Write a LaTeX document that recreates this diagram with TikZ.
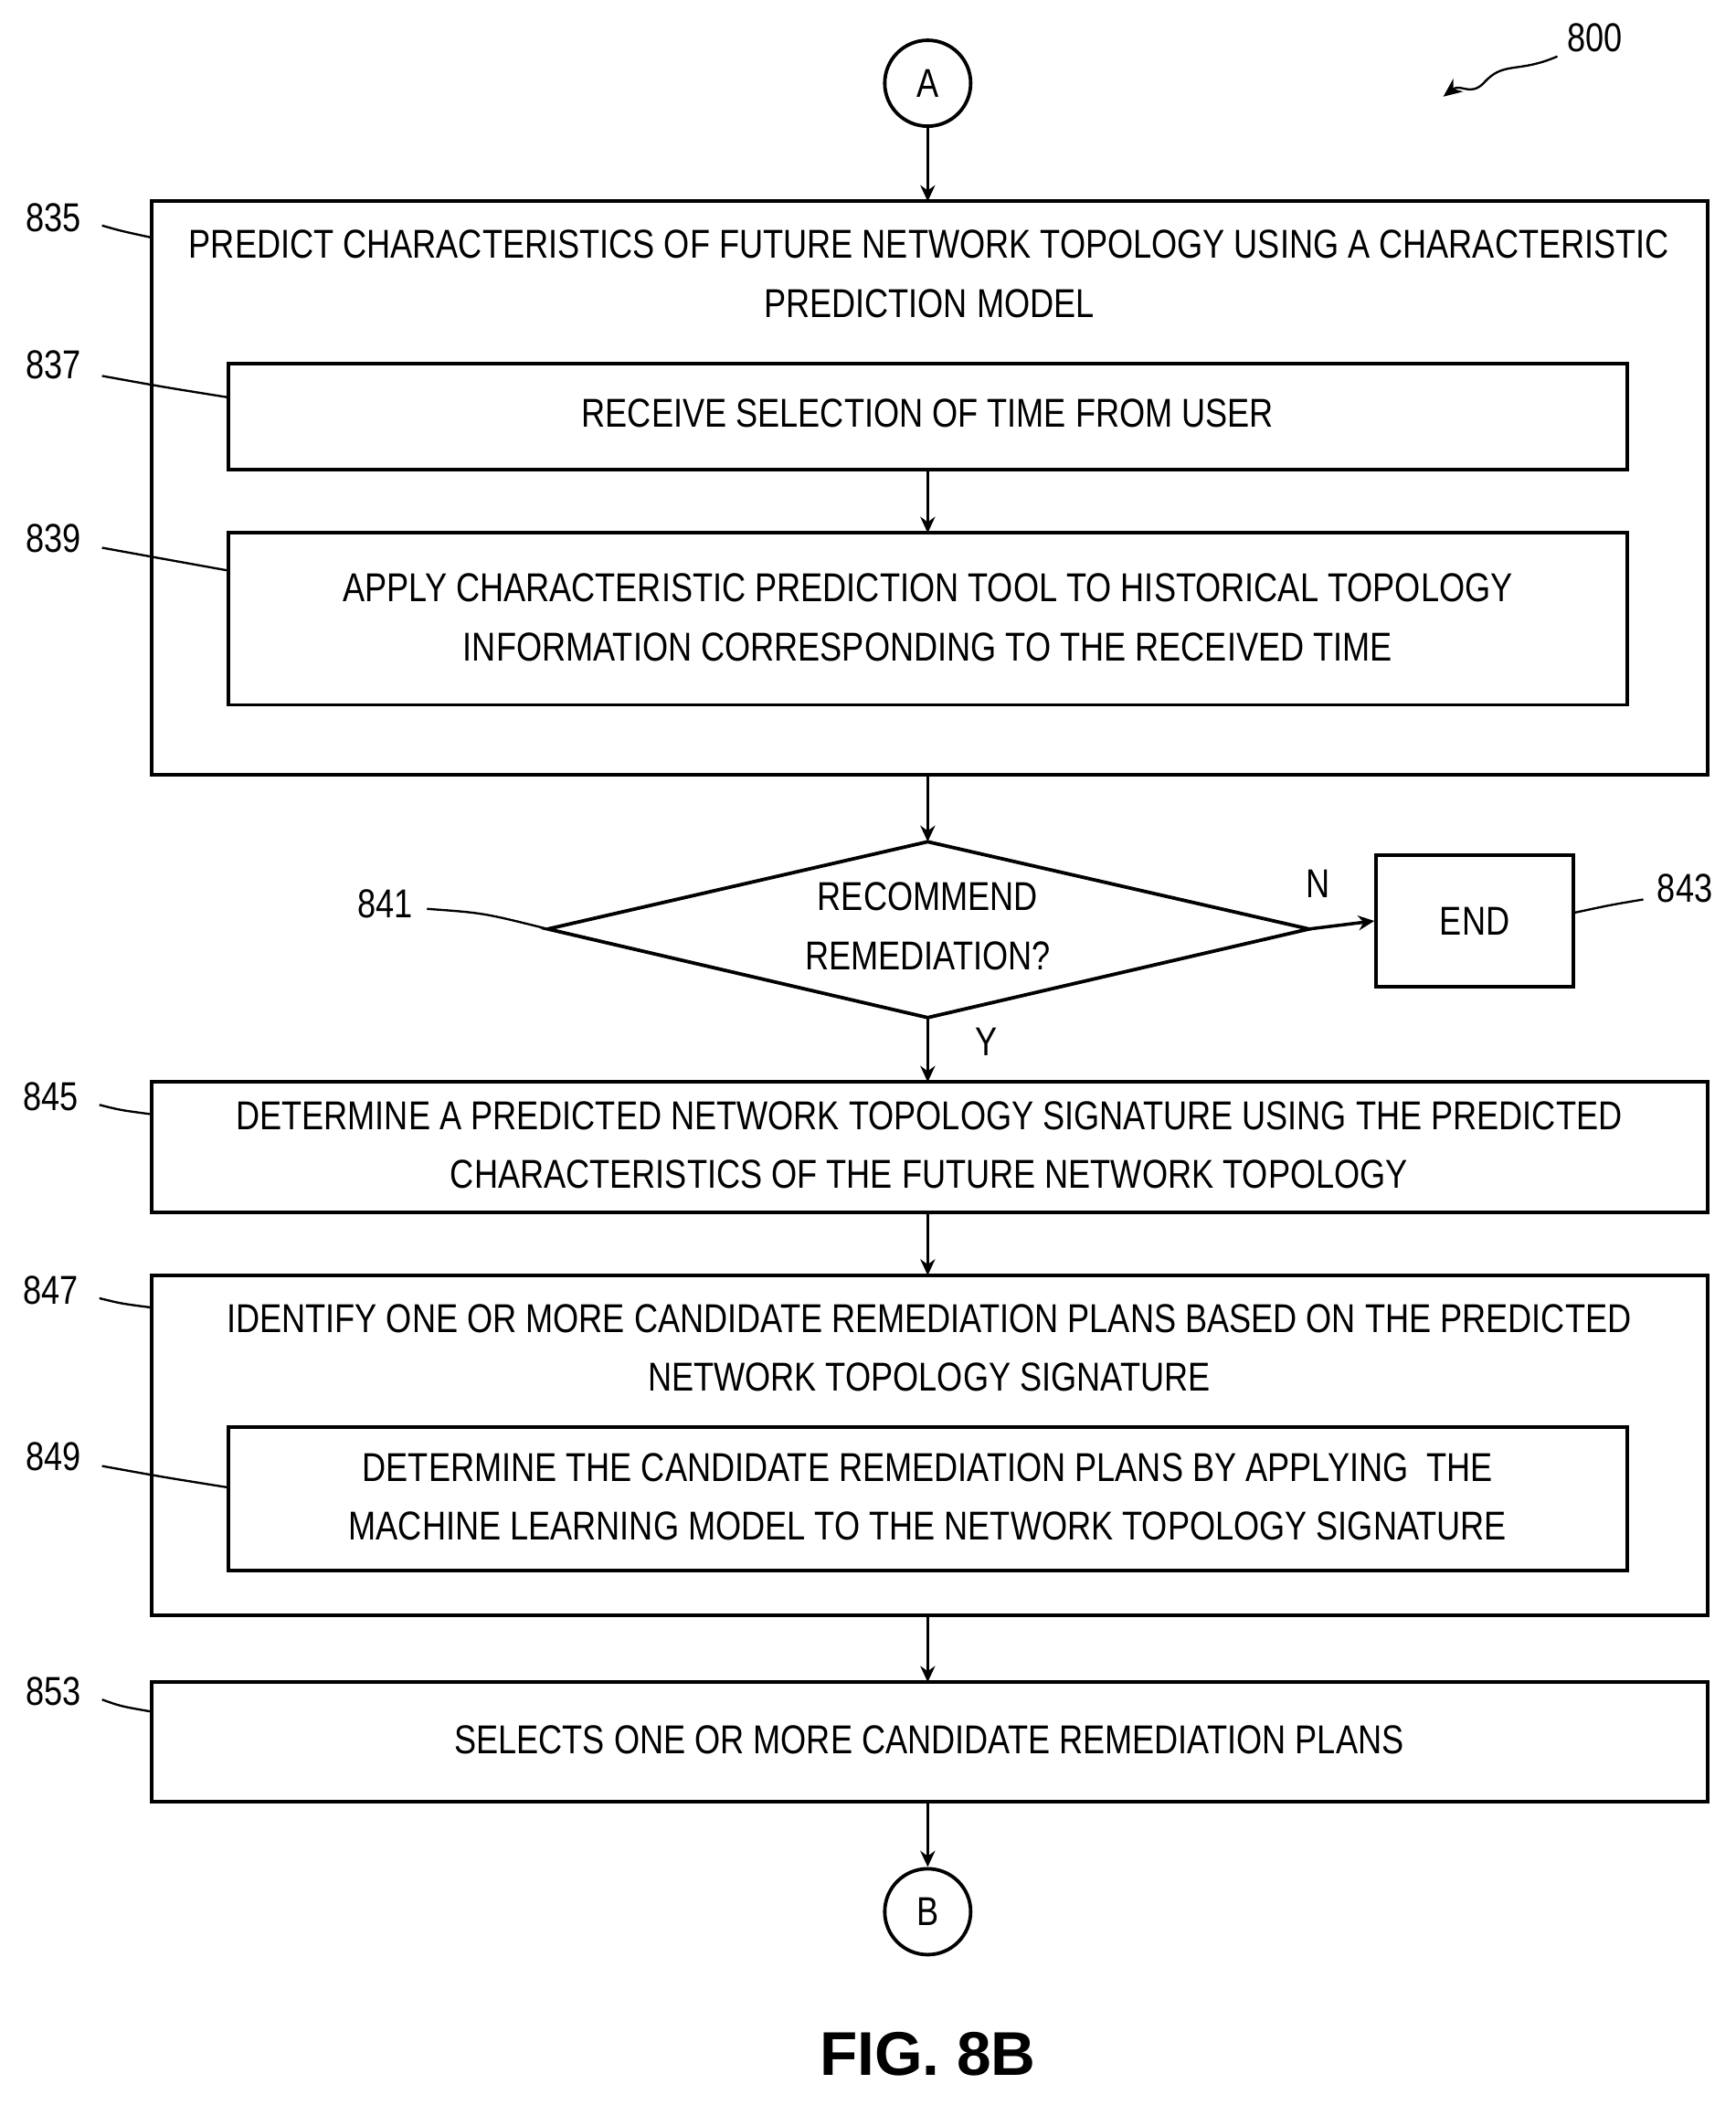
\documentclass[tikz,border=0pt]{standalone}
\usepackage{fontspec}
\setmainfont{Liberation Sans}[FakeStretch=0.82]
\newfontfamily\figfont{Liberation Sans}
\usetikzlibrary{shapes.geometric,arrows.meta}
\begin{document}
\begin{tikzpicture}[x=1pt,y=-1pt,
 box/.style={draw,line width=2.6pt},
 txt/.style={font=\fontsize{30}{44}\selectfont,align=center},
 lbl/.style={font=\fontsize{30}{36}\selectfont},
 arr/.style={line width=2.4pt,-{Stealth[length=12pt,width=11pt]}},
 lead/.style={line width=1.6pt},
 circ/.style={draw,circle,line width=2.6pt,minimum size=64pt,inner sep=0pt,font=\fontsize{30}{36}\selectfont}]
\useasboundingbox (0,0) rectangle (1293,1568);
\node[circ] (A) at (691,62) {A};
\node[lbl] (n800) at (1188,28) {800};
\draw[lead,-{Stealth[length=14pt,width=12pt]}] (1160,42) .. controls (1130,55) and (1120,45) .. (1105,62) .. controls (1095,72) and (1088,62) .. (1075,72);
% 835
\draw[box] (113,150) rectangle (1272,577);
\node[txt] at (692,204) {PREDICT CHARACTERISTICS OF FUTURE NETWORK TOPOLOGY USING A CHARACTERISTIC\\PREDICTION MODEL};
\coordinate (b835top) at (691,150);
\coordinate (b835bot) at (691,577);
\draw[box] (170,271) rectangle (1212,350);
\node[txt] at (691,308) {RECEIVE SELECTION OF TIME FROM USER};
\coordinate (b837bot) at (691,350);
\coordinate (b839top) at (691,397);
\draw[box] (170,397) rectangle (1212,525);
\node[txt] at (691,460) {APPLY CHARACTERISTIC PREDICTION TOOL TO HISTORICAL TOPOLOGY\\INFORMATION CORRESPONDING TO THE RECEIVED TIME};
% diamond
\draw[box] (408,692) -- (691,627) -- (975,692) -- (691,758) -- cycle;
\coordinate (dtop) at (691,627); \coordinate (dbot) at (691,758); \coordinate (dright) at (975,692);
\node[txt] at (691,690) {RECOMMEND\\REMEDIATION?};
\node[box,minimum width=147pt,minimum height=98pt,txt] (end) at (1098.5,686) {END};
\node[lbl] at (982,658) {N};
\node[lbl] at (735,776) {Y};
% 845
\draw[box] (113,806) rectangle (1272,903);
\node[txt] at (692,853) {DETERMINE A PREDICTED NETWORK TOPOLOGY SIGNATURE USING THE PREDICTED\\CHARACTERISTICS OF THE FUTURE NETWORK TOPOLOGY};
\coordinate (b845top) at (691,806); \coordinate (b845bot) at (691,903);
% 847
\draw[box] (113,950) rectangle (1272,1203);
\node[txt] at (692,1004) {IDENTIFY ONE OR MORE CANDIDATE REMEDIATION PLANS BASED ON THE PREDICTED\\NETWORK TOPOLOGY SIGNATURE};
\coordinate (b847top) at (691,950); \coordinate (b847bot) at (691,1203);
\draw[box] (170,1063) rectangle (1212,1170);
\node[txt] at (691,1115) {DETERMINE THE CANDIDATE REMEDIATION PLANS BY APPLYING\ \ THE\\MACHINE LEARNING MODEL TO THE NETWORK TOPOLOGY SIGNATURE};
% 853
\draw[box] (113,1253) rectangle (1272,1342);
\node[txt] at (692,1296) {SELECTS ONE OR MORE CANDIDATE REMEDIATION PLANS};
\coordinate (b853top) at (691,1253); \coordinate (b853bot) at (691,1342);
\node[circ] (B) at (691,1424) {B};
\node[font=\figfont\fontsize{46}{50}\selectfont\bfseries] at (691,1530) {FIG. 8B};
% arrows
\draw[arr] (A) -- (b835top);
\draw[arr] (b837bot) -- (b839top);
\draw[arr] (b835bot) -- (dtop);
\draw[arr] (dright) -- (end.west);
\draw[arr] (dbot) -- (b845top);
\draw[arr] (b845bot) -- (b847top);
\draw[arr] (b847bot) -- (b853top);
\draw[arr] (b853bot) -- (B);
% reference labels
\node[lbl] at (40,162) {835}; \draw[lead] (76,168) .. controls (90,172) .. (113,177);
\node[lbl] at (40,272) {837}; \draw[lead] (76,280) .. controls (120,288) .. (170,296);
\node[lbl] at (40,401) {839}; \draw[lead] (76,408) .. controls (120,416) .. (170,425);
\node[lbl] at (287,673) {841}; \draw[lead] (318,677) .. controls (360,680) .. (408,692);
\node[lbl] at (1255,662) {843}; \draw[lead] (1224,670) .. controls (1200,674) .. (1172,680);
\node[lbl] at (38,817) {845}; \draw[lead] (74,823) .. controls (90,827) .. (113,830);
\node[lbl] at (38,961) {847}; \draw[lead] (74,967) .. controls (90,971) .. (113,974);
\node[lbl] at (40,1085) {849}; \draw[lead] (76,1092) .. controls (120,1100) .. (170,1108);
\node[lbl] at (40,1260) {853}; \draw[lead] (76,1266) .. controls (90,1271) .. (113,1275);
\end{tikzpicture}
\end{document}
